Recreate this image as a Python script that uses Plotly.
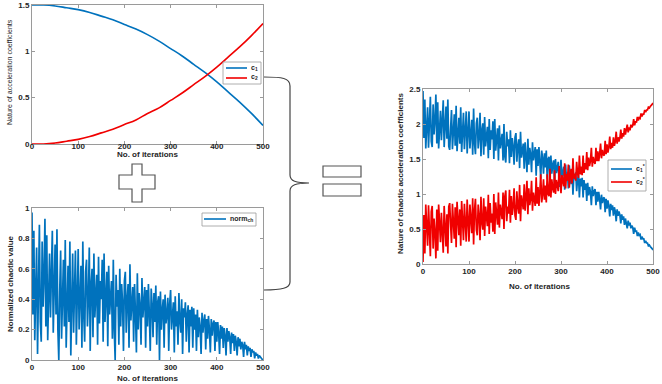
import plotly.graph_objects as go

W, H = 662, 384

# ---------------- data ----------------
iter_coarse = list(range(0, 501, 25))
c1 = [1.50, 1.50, 1.49, 1.47, 1.45, 1.42, 1.38, 1.34, 1.29, 1.24, 1.18,
      1.11, 1.03, 0.95, 0.86, 0.77, 0.67, 0.56, 0.45, 0.33, 0.20]
c2 = [0.00, 0.00, 0.01, 0.03, 0.05, 0.08, 0.12, 0.16, 0.21, 0.26, 0.33,
      0.39, 0.47, 0.55, 0.64, 0.73, 0.83, 0.94, 1.05, 1.17, 1.30]

iterations = list(range(0, 501, 2))
norm_ch = [
    0.97, 0.30, 0.85, 0.13, 0.45, 0.74, 0.04, 0.50, 0.89, 0.25, 0.12, 0.78, 0.35, 0.55, 0.93, 0.22, 0.82, 0.13, 0.48, 0.70, 0.28, 0.52, 0.85, 0.18, 0.66,
    0.76, 0.30, 0.86, 0.20, 0.00, 0.45, 0.72, 0.14, 0.55, 0.66, 0.22, 0.79, 0.08, 0.40, 0.62, 0.25, 0.78, 0.03, 0.48, 0.70, 0.18, 0.58, 0.72, 0.10, 0.44,
    0.73, 0.20, 0.45, 0.62, 0.08, 0.78, 0.30, 0.12, 0.58, 0.66, 0.22, 0.40, 0.74, 0.06, 0.50, 0.60, 0.15, 0.70, 0.28, 0.45, 0.56, 0.10, 0.68, 0.24, 0.52,
    0.40, 0.66, 0.12, 0.70, 0.25, 0.48, 0.58, 0.09, 0.62, 0.30, 0.42, 0.52, 0.14, 0.66, 0.20, 0.00, 0.56, 0.35, 0.46, 0.10, 0.60, 0.22, 0.50, 0.38, 0.06,
    0.52, 0.58, 0.18, 0.40, 0.50, 0.08, 0.63, 0.26, 0.35, 0.48, 0.12, 0.50, 0.30, 0.05, 0.57, 0.20, 0.44, 0.36, 0.10, 0.54, 0.28, 0.42, 0.48, 0.08, 0.46,
    0.22, 0.50, 0.30, 0.06, 0.47, 0.36, 0.15, 0.44, 0.25, 0.49, 0.10, 0.38, 0.42, 0.00, 0.45, 0.20, 0.33, 0.40, 0.08, 0.43, 0.24, 0.30, 0.41, 0.06, 0.37,
    0.46, 0.20, 0.30, 0.38, 0.05, 0.42, 0.22, 0.32, 0.10, 0.44, 0.26, 0.18, 0.40, 0.04, 0.34, 0.28, 0.38, 0.12, 0.30, 0.36, 0.05, 0.33, 0.22, 0.35, 0.08,
    0.34, 0.20, 0.30, 0.06, 0.33, 0.15, 0.28, 0.22, 0.04, 0.31, 0.18, 0.26, 0.30, 0.07, 0.27, 0.14, 0.29, 0.20, 0.05, 0.27, 0.16, 0.24, 0.26, 0.06, 0.25,
    0.12, 0.25, 0.18, 0.04, 0.23, 0.14, 0.22, 0.08, 0.21, 0.16, 0.03, 0.21, 0.12, 0.19, 0.15, 0.04, 0.18, 0.11, 0.17, 0.06, 0.16, 0.12, 0.03, 0.15, 0.09,
    0.14, 0.07, 0.12, 0.10, 0.02, 0.12, 0.07, 0.10, 0.03, 0.09, 0.06, 0.08, 0.02, 0.07, 0.05, 0.06, 0.01, 0.05, 0.03, 0.04, 0.01, 0.03, 0.02, 0.015, 0.005, 0.00,
]
c1_star = [
    2.47, 1.80, 2.35, 1.65, 1.95, 2.24, 1.66, 2.00, 2.39, 1.75, 1.67, 2.28, 1.85, 2.05, 2.42, 1.72, 2.31, 1.65, 1.97, 2.19, 1.77, 2.01, 2.34, 1.67, 2.15,
    2.25, 1.79, 2.35, 1.68, 1.63, 1.93, 2.20, 1.64, 2.03, 2.14, 1.69, 2.26, 1.61, 1.87, 2.09, 1.72, 2.24, 1.60, 1.94, 2.16, 1.64, 2.04, 2.18, 1.58, 1.89,
    2.18, 1.65, 1.89, 2.06, 1.56, 2.22, 1.73, 1.57, 2.01, 2.09, 1.65, 1.82, 2.16, 1.54, 1.91, 2.01, 1.56, 2.10, 1.68, 1.85, 1.96, 1.51, 2.07, 1.63, 1.91,
    1.78, 2.04, 1.50, 2.07, 1.62, 1.85, 1.94, 1.48, 1.98, 1.65, 1.77, 1.86, 1.48, 2.00, 1.53, 1.45, 1.89, 1.68, 1.78, 1.44, 1.91, 1.53, 1.80, 1.68, 1.42,
    1.81, 1.87, 1.46, 1.68, 1.78, 1.37, 1.89, 1.52, 1.60, 1.72, 1.36, 1.74, 1.53, 1.31, 1.79, 1.42, 1.66, 1.57, 1.31, 1.74, 1.48, 1.61, 1.67, 1.26, 1.64,
    1.40, 1.67, 1.46, 1.22, 1.62, 1.51, 1.29, 1.58, 1.38, 1.62, 1.22, 1.50, 1.53, 1.14, 1.55, 1.29, 1.42, 1.48, 1.16, 1.50, 1.30, 1.36, 1.46, 1.10, 1.41,
    1.49, 1.23, 1.32, 1.39, 1.06, 1.42, 1.21, 1.31, 1.08, 1.41, 1.23, 1.14, 1.35, 0.99, 1.28, 1.21, 1.31, 1.04, 1.21, 1.27, 0.95, 1.22, 1.11, 1.23, 0.95,
    1.20, 1.06, 1.15, 0.90, 1.16, 0.98, 1.10, 1.03, 0.84, 1.11, 0.97, 1.04, 1.07, 0.84, 1.03, 0.89, 1.03, 0.93, 0.78, 0.99, 0.87, 0.94, 0.95, 0.74, 0.93,
    0.79, 0.91, 0.83, 0.68, 0.86, 0.77, 0.84, 0.69, 0.81, 0.75, 0.61, 0.78, 0.69, 0.75, 0.70, 0.58, 0.71, 0.63, 0.68, 0.56, 0.65, 0.60, 0.51, 0.62, 0.55,
    0.59, 0.51, 0.55, 0.52, 0.43, 0.52, 0.46, 0.48, 0.40, 0.45, 0.41, 0.42, 0.35, 0.39, 0.36, 0.36, 0.30, 0.33, 0.30, 0.30, 0.26, 0.27, 0.25, 0.24, 0.22, 0.20,
]
c2_star = [
    0.03, 0.70, 0.15, 0.85, 0.55, 0.26, 0.84, 0.50, 0.11, 0.75, 0.83, 0.22, 0.65, 0.45, 0.08, 0.78, 0.19, 0.85, 0.53, 0.31, 0.73, 0.49, 0.16, 0.83, 0.35,
    0.25, 0.71, 0.15, 0.82, 0.87, 0.57, 0.30, 0.86, 0.47, 0.36, 0.81, 0.24, 0.89, 0.63, 0.41, 0.78, 0.26, 0.90, 0.56, 0.34, 0.86, 0.46, 0.32, 0.92, 0.61,
    0.32, 0.85, 0.61, 0.44, 0.94, 0.28, 0.77, 0.93, 0.49, 0.41, 0.85, 0.68, 0.34, 0.96, 0.59, 0.49, 0.94, 0.40, 0.82, 0.65, 0.54, 0.99, 0.43, 0.87, 0.59,
    0.72, 0.46, 1.00, 0.43, 0.88, 0.65, 0.56, 1.02, 0.52, 0.85, 0.73, 0.64, 1.02, 0.50, 0.97, 1.05, 0.61, 0.82, 0.72, 1.06, 0.59, 0.97, 0.70, 0.82, 1.08,
    0.69, 0.63, 1.04, 0.82, 0.72, 1.13, 0.61, 0.98, 0.90, 0.78, 1.14, 0.76, 0.97, 1.19, 0.71, 1.08, 0.84, 0.93, 1.19, 0.76, 1.02, 0.89, 0.83, 1.24, 0.86,
    1.10, 0.83, 1.04, 1.28, 0.88, 0.99, 1.21, 0.92, 1.12, 0.88, 1.28, 1.00, 0.97, 1.36, 0.95, 1.21, 1.08, 1.02, 1.34, 1.00, 1.20, 1.14, 1.04, 1.40, 1.09,
    1.01, 1.27, 1.18, 1.11, 1.44, 1.08, 1.29, 1.19, 1.42, 1.09, 1.27, 1.36, 1.15, 1.51, 1.22, 1.29, 1.19, 1.46, 1.29, 1.23, 1.55, 1.28, 1.39, 1.27, 1.55,
    1.30, 1.44, 1.35, 1.60, 1.34, 1.52, 1.40, 1.47, 1.66, 1.39, 1.53, 1.46, 1.43, 1.66, 1.47, 1.61, 1.47, 1.57, 1.72, 1.51, 1.63, 1.56, 1.55, 1.76, 1.57,
    1.71, 1.59, 1.67, 1.82, 1.64, 1.73, 1.66, 1.81, 1.69, 1.75, 1.89, 1.72, 1.81, 1.75, 1.80, 1.92, 1.79, 1.87, 1.82, 1.94, 1.85, 1.90, 1.99, 1.88, 1.95,
    1.91, 1.99, 1.95, 1.98, 2.07, 1.98, 2.04, 2.02, 2.10, 2.05, 2.09, 2.08, 2.15, 2.11, 2.14, 2.14, 2.20, 2.17, 2.20, 2.20, 2.24, 2.23, 2.25, 2.26, 2.28, 2.30,
]

x_ticks = [0, 100, 200, 300, 400, 500]
x_title = "No. of iterations"

BLUE = "#0072BD"
RED = "#F00000"
TXT = "#262626"
FRAME = "#9a9a9a"
FONT = "Liberation Sans"


def px(x, y):
    return x / W, 1 - y / H


def pstr(x, y):
    a, b = px(x, y)
    return f"{a:.5f},{b:.5f}"


fig = go.Figure()

# top-left
fig.add_trace(go.Scatter(x=iter_coarse, y=c1, mode="lines", name="c1", showlegend=False,
                         line=dict(color=BLUE, width=1.6, shape="spline"), xaxis="x", yaxis="y"))
fig.add_trace(go.Scatter(x=iter_coarse, y=c2, mode="lines", name="c2", showlegend=False,
                         line=dict(color=RED, width=1.6, shape="spline"), xaxis="x", yaxis="y"))
# bottom-left
fig.add_trace(go.Scatter(x=iterations[:len(norm_ch)], y=norm_ch, mode="lines", name="norm_ch", showlegend=False,
                         line=dict(color=BLUE, width=1.7), xaxis="x2", yaxis="y2"))
# right
fig.add_trace(go.Scatter(x=iterations[:len(c1_star)], y=c1_star, mode="lines", name="c1*", showlegend=False,
                         line=dict(color=BLUE, width=1.7), xaxis="x3", yaxis="y3"))
fig.add_trace(go.Scatter(x=iterations[:len(c2_star)], y=c2_star, mode="lines", name="c2*", showlegend=False,
                         line=dict(color=RED, width=1.7), xaxis="x3", yaxis="y3"))


def axis(domain, anchor, rng, tickvals=None, dtick=None, standoff=0):
    d = dict(domain=domain, anchor=anchor, range=rng, showline=True, linecolor=FRAME, linewidth=1,
             mirror="ticks", ticks="inside", ticklen=3, tickcolor=FRAME, showgrid=False, zeroline=False,
             automargin=False, ticklabelstandoff=standoff,
             tickfont=dict(family=FONT, size=8, color=TXT, weight="bold"))
    if tickvals is not None:
        d["tickvals"] = tickvals
    if dtick is not None:
        d["tick0"] = 0
        d["dtick"] = dtick
    return d


# pixel boxes of the three axes
TL = (32, 263, 5, 144)
BL = (32, 263, 208, 360)
RT = (423, 653, 89, 264)


def dom(box):
    x0, x1, y0, y1 = box
    return [x0 / W, x1 / W], [1 - y1 / H, 1 - y0 / H]


tlx, tly = dom(TL)
blx, bly = dom(BL)
rtx, rty = dom(RT)

fig.update_layout(
    width=W, height=H, autosize=False,
    margin=dict(l=0, r=0, t=0, b=0),
    paper_bgcolor="white", plot_bgcolor="white",
    showlegend=False,
    xaxis=axis(tlx, "y", [0, 500], tickvals=x_ticks, standoff=-6),
    yaxis=axis(tly, "x", [0, 1.5], dtick=0.5),
    xaxis2=axis(blx, "y2", [0, 500], tickvals=x_ticks, standoff=-1),
    yaxis2=axis(bly, "x2", [0, 1], dtick=0.2),
    xaxis3=axis(rtx, "y3", [0, 500], tickvals=x_ticks, standoff=-1),
    yaxis3=axis(rty, "x3", [0, 2.5], dtick=0.5),
)

ann = []


def text(x, y, s, size=8, angle=0, xanchor="center", bold=True):
    a, b = px(x, y)
    ann.append(dict(x=a, y=b, xref="paper", yref="paper", text=s, showarrow=False,
                    xanchor=xanchor, yanchor="middle", textangle=angle,
                    font=dict(family=FONT, size=size, color=TXT, weight="bold" if bold else "normal")))


# axis titles
text(147, 154, x_title)
text(147, 378, x_title)
text(539, 286, x_title)
text(9, 72, "Nature of acceleration coefficients", size=7, angle=-90, bold=False)
text(10, 284, "Normalized chaotic value", size=8, angle=-90)
text(400, 174, "Nature of chaotic acceleration coefficients", size=8, angle=-90)

shapes = []


def rect(x0, y0, x1, y1, color="#555", width=1, fill="white"):
    a0, b0 = px(x0, y0)
    a1, b1 = px(x1, y1)
    shapes.append(dict(type="rect", xref="paper", yref="paper", x0=a0, y0=b1, x1=a1, y1=b0,
                       line=dict(color=color, width=width), fillcolor=fill, layer="above"))


def seg(x0, y0, x1, y1, color, width=1.6):
    a0, b0 = px(x0, y0)
    a1, b1 = px(x1, y1)
    shapes.append(dict(type="line", xref="paper", yref="paper", x0=a0, y0=b0, x1=a1, y1=b1,
                       line=dict(color=color, width=width), layer="above"))


def path(d, color="#444", width=1.2, fill=None):
    s = dict(type="path", xref="paper", yref="paper", path=d, line=dict(color=color, width=width), layer="above")
    if fill:
        s["fillcolor"] = fill
    shapes.append(s)


# legends
rect(223, 62, 261, 84, color=FRAME, width=0.8)
seg(226, 68, 247, 68, BLUE)
seg(226, 78, 247, 78, RED)
text(249, 67.5, "c<sub>1</sub>", size=7, xanchor="left")
text(249, 77.5, "c<sub>2</sub>", size=7, xanchor="left")

rect(202, 213, 256, 226, color=FRAME, width=0.8)
seg(204, 219, 226, 219, BLUE)
text(228, 219, "norm<sub>ch</sub>", size=7, xanchor="left")

rect(608, 160, 646, 191, color=FRAME, width=0.8)
seg(611, 169, 632, 169, BLUE)
seg(611, 182, 632, 182, RED)
text(634, 168.5, "c<sub>1</sub><sup>*</sup>", size=7, xanchor="left")
text(634, 181.5, "c<sub>2</sub><sup>*</sup>", size=7, xanchor="left")

# plus sign
plus_pts = [(132, 164), (142, 164), (142, 175), (155, 175), (155, 189), (142, 189), (142, 202),
            (132, 202), (132, 189), (119, 189), (119, 175), (132, 175)]
path("M " + " L ".join(pstr(*p) for p in plus_pts) + " Z", color="#555", width=1.2, fill="white")

# brace
brace = ("M " + pstr(264, 77) +
         " C " + pstr(282, 77) + " " + pstr(290, 78) + " " + pstr(290, 86) +
         " L " + pstr(290, 175) +
         " C " + pstr(290, 181) + " " + pstr(296, 183) + " " + pstr(309, 183) +
         " C " + pstr(296, 183) + " " + pstr(290, 185) + " " + pstr(290, 191) +
         " L " + pstr(290, 282) +
         " C " + pstr(290, 288) + " " + pstr(282, 290) + " " + pstr(264, 290))
path(brace, color="#444", width=1.2)

# equals sign
rect(323, 166, 361, 177, color="#555", width=1.2)
rect(323, 184, 361, 196, color="#555", width=1.2)

fig.update_layout(annotations=ann, shapes=shapes)

fig.write_html("out.html", config={"displayModeBar": False},
               post_script="document.body.style.margin='0';document.body.style.overflow='hidden';")
